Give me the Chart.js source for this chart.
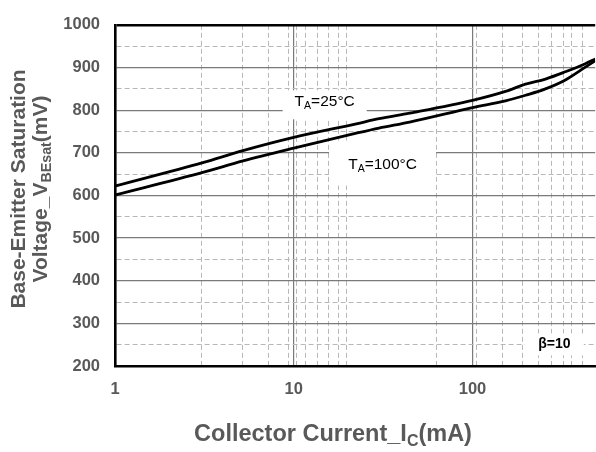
<!DOCTYPE html>
<html>
<head>
<meta charset="utf-8">
<script src="https://cdn.jsdelivr.net/npm/chart.js@4"></script>
<style>
  html, body { margin: 0; padding: 0; background: #fff; }
</style>
</head>
<body>
<canvas id="chart1" width="596" height="452"></canvas>
<script>
// collector current (mA) and VBE(sat) (mV)
let currents = [1, 3.1, 5.2, 10, 22.4, 30, 44.5, 100, 153, 198, 256, 331, 428, 486]
let vbe25 = [622, 677, 705, 736, 768, 780, 793, 823, 844, 861, 873, 890, 909, 920]
let vbe100 = [601, 654, 681, 711, 746, 758, 772, 806, 822, 835, 850, 871, 901, 916]

// grid lines as they appear on the sheet
let xMajor = [1, 10, 100]
let xMinor = [3.05, 5.2, 7.25, 9.4, 10.4, 11.6, 13.6, 15.7, 17.8, 19.8, 63, 105, 148, 190, 233, 276, 322, 360, 410]
let yMajor = [200, 300, 400, 500, 600, 700, 800, 900, 1000]
let yMinor = [250, 350, 450, 550, 650, 750, 850, 950]

let FONT = "'Liberation Sans', Arial, sans-serif"
let GRAY = '#595959'

let notes = [
  { parts: [['T'], ['A', 1], ['=25°C']], x: 14.9, y: 822, w: 84, h: 29, dy: 4, size: 15.5, weight: 'normal' },
  { parts: [['T'], ['A', 1], ['=100°C']], x: 31.4, y: 676, w: 107, h: 45, dy: 0, size: 15.5, weight: 'normal' },
  { parts: [['β=10']], x: 287, y: 253, w: 59, h: 22, dy: 1, size: 14, weight: 'bold' }
]

function drawParts(ctx, parts, cx, base, size, weight, color) {
  let widths = parts.map(p => {
    ctx.font = weight + ' ' + (p[1] ? size * 0.68 : size) + 'px ' + FONT
    return ctx.measureText(p[0]).width
  })
  let total = widths.reduce((a, b) => a + b, 0)
  let px = cx - total / 2
  ctx.fillStyle = color
  ctx.textBaseline = 'alphabetic'
  ctx.textAlign = 'left'
  parts.forEach((p, i) => {
    ctx.font = weight + ' ' + (p[1] ? size * 0.68 : size) + 'px ' + FONT
    ctx.fillText(p[0], px, p[1] ? base + size * 0.2 : base)
    px += widths[i]
  })
}

const noteLabels = {
  id: 'noteLabels',
  beforeDatasetsDraw(chart) {
    let ctx = chart.ctx
    let xs = chart.scales.x, ys = chart.scales.y
    notes.forEach(n => {
      let px = xs.getPixelForValue(n.x), py = ys.getPixelForValue(n.y)
      ctx.save()
      ctx.fillStyle = '#fff'
      ctx.fillRect(px - n.w / 2, py - n.h / 2 + n.dy, n.w, n.h)
      drawParts(ctx, n.parts, px, py + n.size * 0.36, n.size, n.weight, '#000')
      ctx.restore()
    })
  }
}

const axisTitles = {
  id: 'axisTitles',
  afterDraw(chart) {
    let ctx = chart.ctx
    ctx.save()
    drawParts(ctx, [['Collector Current_I'], ['C', 1], ['(mA)']], 333, 441, 23.5, 'bold', GRAY)
    ctx.translate(0, 189)
    ctx.rotate(-Math.PI / 2)
    drawParts(ctx, [['Base-Emitter Saturation']], 0, 25, 21, 'bold', GRAY)
    drawParts(ctx, [['Voltage_V'], ['BEsat', 1], ['(mV)']], 0, 47, 21, 'bold', GRAY)
    ctx.restore()
  }
}

let xTicks = xMajor.concat(xMinor).sort((a, b) => a - b)
let yTicks = yMajor.concat(yMinor).sort((a, b) => a - b)
let isMajorX = v => xMajor.includes(v)
let isMajorY = v => yMajor.includes(v)

new Chart(document.getElementById('chart1'), {
  type: 'line',
  data: {
    datasets: [
      {
        label: 'TA=25°C',
        data: currents.map((c, i) => ({ x: c, y: vbe25[i] })),
        borderColor: '#000',
        borderWidth: 2.8,
        pointRadius: 0,
        cubicInterpolationMode: 'monotone',
        fill: false
      },
      {
        label: 'TA=100°C',
        data: currents.map((c, i) => ({ x: c, y: vbe100[i] })),
        borderColor: '#000',
        borderWidth: 2.8,
        pointRadius: 0,
        cubicInterpolationMode: 'monotone',
        fill: false
      }
    ]
  },
  options: {
    responsive: false,
    animation: false,
    devicePixelRatio: 1,
    layout: { padding: { left: 0, top: 15, right: 0, bottom: 0 } },
    plugins: {
      legend: { display: false },
      tooltip: { enabled: false }
    },
    scales: {
      x: {
        type: 'logarithmic',
        min: 1,
        max: 486,
        afterBuildTicks: s => { s.ticks = xTicks.map(v => ({ value: v })) },
        afterFit: s => { s.height = 86 },
        ticks: {
          autoSkip: false,
          maxRotation: 0,
          padding: 14,
          color: GRAY,
          font: { family: FONT, size: 16.5, weight: 'bold' },
          callback: v => isMajorX(v) ? String(v) : ''
        },
        grid: {
          drawTicks: false,
          color: c => isMajorX(c.tick.value) ? '#7a7a7a' : '#b8b8b8',
          lineWidth: c => isMajorX(c.tick.value) ? 1.2 : 1
        },
        border: {
          color: '#000',
          width: 2.6,
          dash: c => (c.type === 'tick' && !isMajorX(c.tick.value)) ? [5, 3] : []
        }
      },
      y: {
        type: 'linear',
        min: 200,
        max: 1000,
        afterBuildTicks: s => { s.ticks = yTicks.map(v => ({ value: v })) },
        afterFit: s => { s.width = 115 },
        ticks: {
          autoSkip: false,
          padding: 15,
          color: GRAY,
          font: { family: FONT, size: 16.5, weight: 'bold' },
          callback: v => isMajorY(v) ? String(v) : ''
        },
        grid: {
          drawTicks: false,
          color: c => c.tick.value === 1000 ? '#000' : (isMajorY(c.tick.value) ? '#7a7a7a' : '#b8b8b8'),
          lineWidth: c => c.tick.value === 1000 ? 2.6 : (isMajorY(c.tick.value) ? 1.2 : 1)
        },
        border: {
          color: '#000',
          width: 2.6,
          dash: c => (c.type === 'tick' && !isMajorY(c.tick.value)) ? [5, 3] : []
        }
      }
    }
  },
  plugins: [noteLabels, axisTitles]
})
</script>
</body>
</html>
